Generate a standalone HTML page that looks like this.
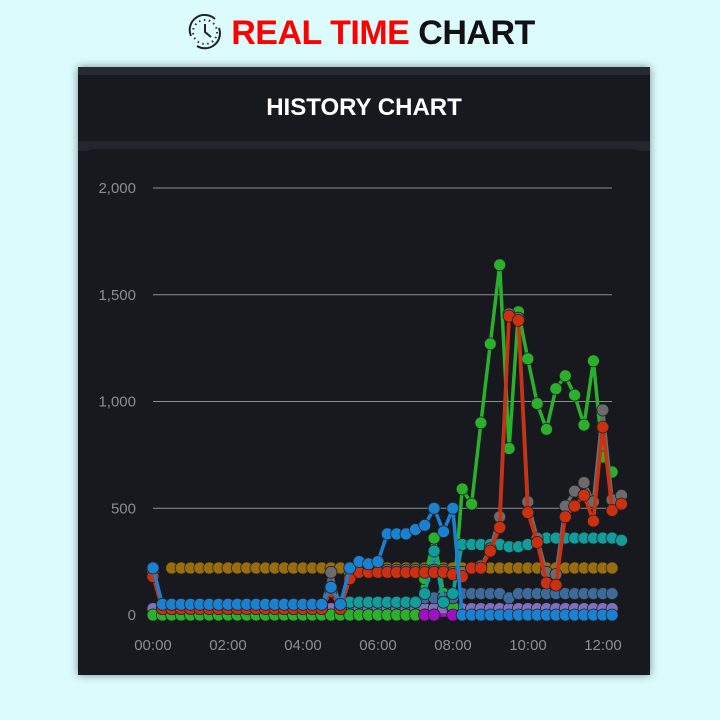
<!DOCTYPE html>
<html><head><meta charset="utf-8"><style>
html,body{margin:0;padding:0;width:720px;height:720px;background:#dcfbfd;overflow:hidden;font-family:"Liberation Sans",sans-serif}
.title{position:absolute;top:14px;left:0;width:720px;text-align:center;font-weight:bold;font-size:34px;letter-spacing:-0.5px}
.card{position:absolute;left:78px;top:67px;width:572px;height:608px;background:#16191e;box-shadow:0 0 8px rgba(0,0,0,0.45)}
.strip{position:absolute;left:0;top:0;width:572px;height:8px;background:#262a31}
.band{position:absolute;left:0;top:74px;width:572px;height:10px;background:#22262d}
.inner{position:absolute;left:4px;top:82px;width:562px;height:522px;background:#17191e;border-radius:12px}
.h{position:absolute;left:0;top:27px;width:572px;text-align:center;color:#fff;font-weight:bold;font-size:24px}
svg{position:absolute;left:0;top:0}
</style></head><body>
<div class="title"><svg width="40" height="36" style="position:relative;display:inline-block;vertical-align:middle;margin-right:6px;top:-3px" viewBox="0 0 40 36"><circle cx="20" cy="18" r="12" fill="none" stroke="#333" stroke-width="2" stroke-dasharray="1.5 3.5"/><path d="M20 10 V18 L26 23" stroke="#222" stroke-width="2" fill="none"/><path d="M6 22 A15 15 0 0 1 30 5" stroke="#222" stroke-width="2" fill="none"/><path d="M34 14 A15 15 0 0 1 12 32" stroke="#222" stroke-width="2" fill="none"/></svg><span style="color:#f00">REAL TIME</span> <span style="color:#111">CHART</span></div>
<div class="card"><div class="strip"></div><div class="h">HISTORY CHART</div><div class="band"></div><div class="inner"></div></div>
<svg id="c" width="720" height="720"></svg>
<script>
var s='';
function Y(v){return 615-v*0.2135;}
function X(i){return 153+i*9.37;}
[[0,"0"],[500,"500"],[1000,"1,000"],[1500,"1,500"],[2000,"2,000"]].forEach(function(g){
 if(g[0]>0) s+='<line x1="153" x2="612" y1="'+Y(g[0])+'" y2="'+Y(g[0])+'" stroke="#8a8d92" stroke-width="1"/>';
 s+='<text x="136" y="'+(Y(g[0])+5)+'" fill="#8a8d92" font-size="15" text-anchor="end" font-family="Liberation Sans">'+g[1]+'</text>';
});
["00:00","02:00","04:00","06:00","08:00","10:00","12:00"].forEach(function(t,k){
 s+='<text x="'+(153+k*75)+'" y="650" fill="#8a8d92" font-size="15" text-anchor="middle" font-family="Liberation Sans">'+t+'</text>';});
function fill(n,v){var a=[];for(var i=0;i<n;i++)a.push(v);return a;}
function series(vals,col,start){
 start=start||0;var p='',c='';
 vals.forEach(function(v,k){if(v===null)return;var x=X(k+start),y=Y(v);p+=(p?'L':'M')+x.toFixed(1)+' '+y.toFixed(1);c+='<circle cx="'+x.toFixed(1)+'" cy="'+y.toFixed(1)+'" r="6" fill="'+col+'" stroke="#222" stroke-width="0.8"/>';});
 s+='<path d="'+p+'" stroke="'+col+'" stroke-width="3.5" fill="none" stroke-linejoin="round"/>'+c;
}
series(fill(50,30),"#8070c0");
series(fill(1,null).concat([null]).concat(fill(48,220)),"#9a6d0c");
series([0].concat(fill(28,0),[170,360,100,40,590,520,900,1270,1640,780,1420,1200,990,870,1060,1120,1030,890,1190,740,670]),"#2bb02b");
series([0].concat(fill(28,0),[0,0]),"#2bb02b");
series(fill(29,null).concat([0,0,null,0]),"#a010c0");
series(fill(29,null).concat([80,80,80,80,100,100,100,100,100,80,100,100,100,100,100,100,100,100,100,100,100]),"#3d6a9a");
series(fill(20,null).concat([60,60,60,60,60,60,60,60,60,100,300,60,100,330,330,330,330,330,320,320,330,360,360,360,360,360,360,360,360,360,350]),"#129c9c");
series([200].concat(fill(18,30),[200,30,190,210,210,210,210,210,210,210,210,210,210,200,200,220,230,310,460,1410,1390,530,360,200,190,510,580,620,530,960,540,560]),"#6b6b6b");
series([180].concat(fill(18,30),[110,30,170,200,200,200,200,200,200,200,200,200,200,190,180,220,220,300,410,1400,1380,480,340,150,140,460,510,560,440,880,490,520]),"#cc3010");
series([220].concat(fill(18,50),[130,50,220,250,240,250,380,380,380,400,420,500,390,500]).concat(fill(17,0)),"#1a80d0");
document.getElementById('c').innerHTML=s;
</script>
</body></html>
